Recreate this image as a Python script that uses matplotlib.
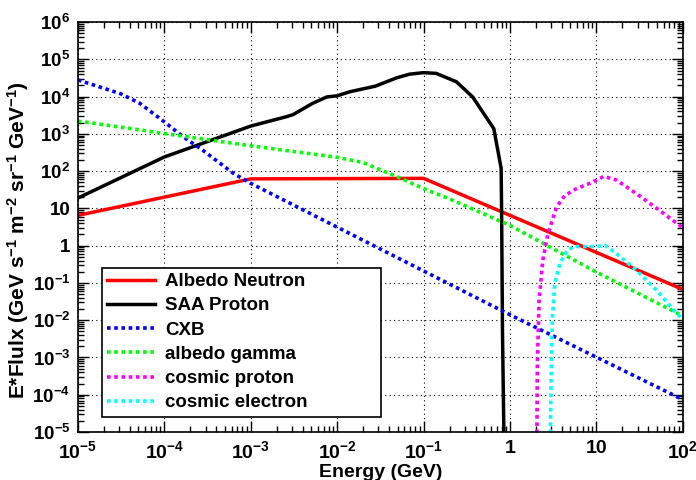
import numpy as np
import matplotlib
matplotlib.use('Agg')
import matplotlib.pyplot as plt
from matplotlib.ticker import LogLocator, FuncFormatter, NullFormatter

plt.rcParams['font.family'] = 'Liberation Sans'
plt.rcParams['font.weight'] = 'bold'
plt.rcParams['mathtext.fontset'] = 'custom'
plt.rcParams['mathtext.rm'] = 'Liberation Sans:bold'
plt.rcParams['mathtext.it'] = 'Liberation Sans:bold:italic'
plt.rcParams['mathtext.bf'] = 'Liberation Sans:bold'

# energy (GeV) / E*flux pairs for each component
neutron_e = [1e-5, 1e-3, 0.1, 100]
neutron_f = [6.5, 62, 64, 0.067]

saa_e = [1e-5, 1e-4, 1e-3, 2.6e-3, 3.1e-3, 5.2e-3, 7.6e-3, 1e-2, 1.4e-2, 2.75e-2,
         4.9e-2, 6.9e-2, 0.1, 0.14, 0.24, 0.37, 0.65, 0.79, 0.80, 0.82, 0.85, 0.87]
saa_f = [19, 240, 1620, 2900, 3300, 6600, 9800, 10500, 13500, 19000,
         32000, 40000, 44000, 42000, 25000, 9800, 1380, 120, 9, 0.004, 1e-5, 1e-6]

cxb_e = [1e-5, 3.1e-5, 5.2e-5, 1e-4, 1.66e-4, 2.8e-4, 6.3e-4, 1e-3, 1.0, 100]
cxb_f = [28000, 12000, 6600, 2100, 830, 360, 87, 47, 0.014, 7.4e-5]

gamma_e = [1e-5, 3.6e-5, 1e-4, 1e-3, 1e-2, 2e-2, 2.9e-2, 4.5e-2, 0.1, 0.2, 1, 10, 100]
gamma_f = [2200, 1450, 1020, 480, 235, 170, 117, 78, 34, 18, 3.5, 0.195, 0.013]

proton_e = [2.04, 2.07, 2.17, 2.4, 2.75, 3.47, 4.3, 5.9, 8.4, 12.2, 17, 29, 50, 92, 100]
proton_f = [1e-6, 5.5e-4, 0.034, 0.41, 2.1, 11, 22, 34, 47, 72, 58, 25, 10, 3.5, 3.1]

electron_e = [2.9, 3.0, 3.1, 3.3, 3.78, 4.5, 5.4, 10, 12.6, 17, 29, 50, 85, 95]
electron_f = [1e-6, 5.5e-4, 0.012, 0.095, 0.33, 0.68, 0.95, 0.95, 1.02, 0.62, 0.22, 0.063, 0.015, 0.012]

dots = (0, (1.0, 1.0))

fig = plt.figure(figsize=(6.96, 4.8), dpi=100)
ax = fig.add_axes([0.112, 0.1, 0.869, 0.854])

ax.plot(neutron_e, neutron_f, color='red', lw=2.5, label='Albedo Neutron')
ax.plot(saa_e, saa_f, color='black', lw=2.5, label='SAA Proton')
ax.plot(cxb_e, cxb_f, color='blue', lw=2.6, ls=dots, label='CXB')
ax.plot(gamma_e, gamma_f, color='#00ff00', lw=2.6, ls=dots, label='albedo gamma')
ax.plot(proton_e, proton_f, color='magenta', lw=2.6, ls=dots, label='cosmic proton')
ax.plot(electron_e, electron_f, color='cyan', lw=2.6, ls=dots, label='cosmic electron')

ax.set_xscale('log')
ax.set_yscale('log')
ax.set_xlim(1e-5, 100)
ax.set_ylim(1e-5, 1e6)


def pow_label(v, pos):
    n = int(round(np.log10(v)))
    if n == 0:
        return '1'
    if n == 1:
        return '10'
    return r'$10^{%d}$' % n


for axis in (ax.xaxis, ax.yaxis):
    axis.set_major_locator(LogLocator(base=10, numticks=30))
    axis.set_minor_locator(LogLocator(base=10, subs=np.arange(2, 10), numticks=30))
    axis.set_major_formatter(FuncFormatter(pow_label))
    axis.set_minor_formatter(NullFormatter())

ax.tick_params(which='both', direction='in', top=True, right=True, width=1)
ax.tick_params(which='major', length=8)
ax.tick_params(which='minor', length=4)
ax.tick_params(axis='x', which='major', labelsize=14, pad=6)
ax.tick_params(axis='y', which='major', labelsize=13.5, pad=5.5)
for s in ax.spines.values():
    s.set_linewidth(1.2)

ax.grid(which='major', color='black', ls=(0, (1, 3)), lw=0.8)

ax.set_xlabel('Energy (GeV)', fontsize=14, fontweight='bold')
ax.xaxis.set_label_coords(0.5, -0.078)
ax.set_ylabel(r'E*Flulx (GeV s$^{-1}$ m$^{-2}$ sr$^{-1}$ GeV$^{-1}$)', fontsize=15, fontweight='bold')
ax.yaxis.set_label_coords(-0.077, 0.468)

leg = ax.legend(loc='lower left', bbox_to_anchor=(0.146, 0.132, 0.401, 0.309),
                bbox_transform=fig.transFigure, mode='expand', borderaxespad=0,
                fancybox=False, frameon=True, edgecolor='black', framealpha=1,
                fontsize=13.5, handlelength=2.56, handletextpad=0.53, labelspacing=0.38,
                borderpad=0.28)
leg.get_frame().set_linewidth(1.2)

fig.savefig('out.png', dpi=100)
